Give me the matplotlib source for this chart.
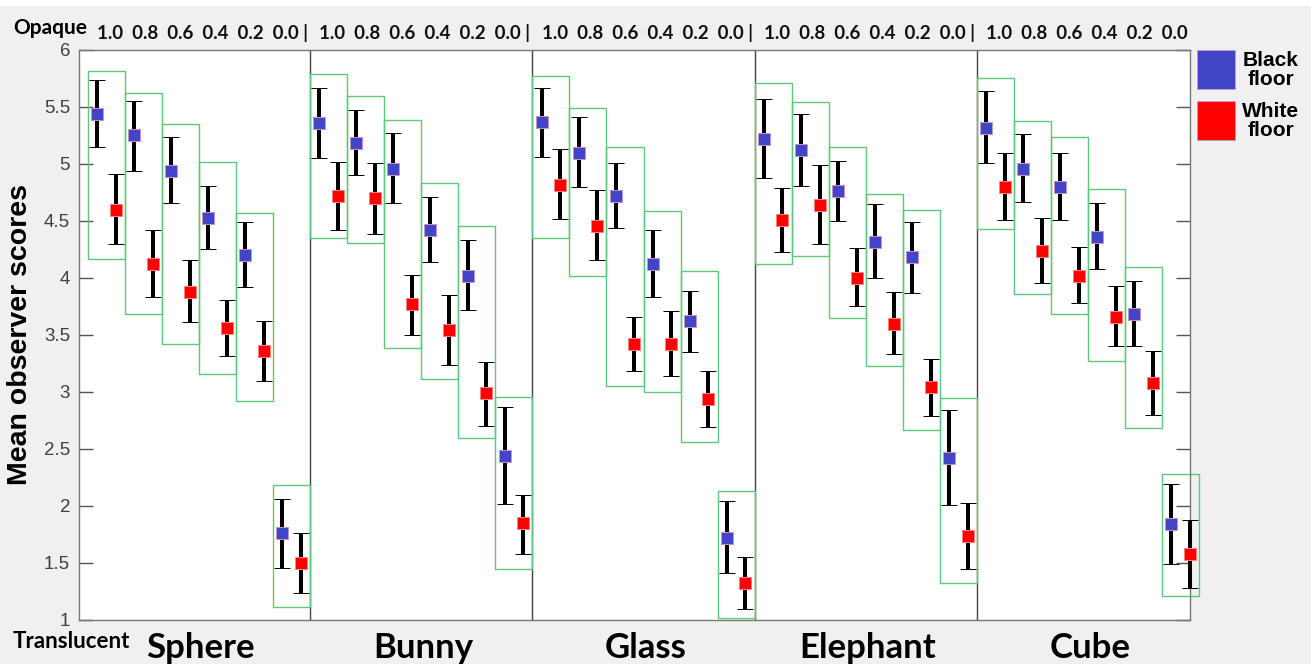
import matplotlib.pyplot as plt
from matplotlib.patches import Rectangle

objects = ["Sphere", "Bunny", "Glass", "Elephant", "Cube"]
opacity = ["1.0", "0.8", "0.6", "0.4", "0.2", "0.0"]

# scores per object, opacity 1.0 -> 0.0 ; black floor
black_mean = [[5.44, 5.25, 4.94, 4.53, 4.20, 1.76],
              [5.36, 5.18, 4.96, 4.42, 4.02, 2.44],
              [5.37, 5.10, 4.72, 4.12, 3.62, 1.72],
              [5.22, 5.12, 4.76, 4.32, 4.18, 2.42],
              [5.32, 4.96, 4.80, 4.36, 3.68, 1.84]]
black_lo = [[5.15, 4.94, 4.66, 4.25, 3.92, 1.46],
            [5.05, 4.90, 4.66, 4.14, 3.72, 2.02],
            [5.06, 4.80, 4.44, 3.83, 3.35, 1.41],
            [4.88, 4.81, 4.50, 4.00, 3.87, 2.01],
            [5.01, 4.67, 4.51, 4.08, 3.40, 1.49]]
black_hi = [[5.74, 5.55, 5.24, 4.81, 4.49, 2.06],
            [5.67, 5.47, 5.27, 4.71, 4.33, 2.87],
            [5.67, 5.41, 5.01, 4.42, 3.89, 2.04],
            [5.57, 5.44, 5.03, 4.65, 4.49, 2.84],
            [5.64, 5.26, 5.10, 4.66, 3.97, 2.19]]

# white floor
white_mean = [[4.60, 4.12, 3.88, 3.56, 3.36, 1.50],
              [4.72, 4.70, 3.77, 3.54, 2.99, 1.85],
              [4.82, 4.46, 3.42, 3.42, 2.94, 1.32],
              [4.51, 4.64, 4.00, 3.60, 3.04, 1.74],
              [4.80, 4.24, 4.02, 3.66, 3.08, 1.58]]
white_lo = [[4.30, 3.83, 3.61, 3.32, 3.10, 1.24],
            [4.42, 4.39, 3.50, 3.24, 2.70, 1.58],
            [4.52, 4.16, 3.18, 3.14, 2.69, 1.10],
            [4.23, 4.30, 3.75, 3.33, 2.79, 1.45],
            [4.51, 3.96, 3.78, 3.40, 2.80, 1.28]]
white_hi = [[4.91, 4.42, 4.16, 3.81, 3.62, 1.76],
            [5.02, 5.01, 4.03, 3.85, 3.26, 2.10],
            [5.13, 4.77, 3.66, 3.71, 3.18, 1.55],
            [4.79, 4.99, 4.26, 3.88, 3.29, 2.03],
            [5.10, 4.53, 4.27, 3.93, 3.36, 1.88]]

# green range boxes around each black/white pair
box_lo = [[4.17, 3.68, 3.42, 3.16, 2.92, 1.11],
          [4.35, 4.31, 3.39, 3.11, 2.60, 1.45],
          [4.35, 4.02, 3.05, 3.00, 2.56, 1.02],
          [4.12, 4.19, 3.65, 3.23, 2.67, 1.32],
          [4.43, 3.86, 3.68, 3.27, 2.68, 1.21]]
box_hi = [[5.82, 5.62, 5.35, 5.02, 4.57, 2.18],
          [5.79, 5.60, 5.39, 4.83, 4.46, 2.96],
          [5.77, 5.49, 5.15, 4.59, 4.06, 2.13],
          [5.71, 5.54, 5.15, 4.74, 4.60, 2.95],
          [5.75, 5.38, 5.24, 4.78, 4.10, 2.28]]

BLUE = "#4146c9"
RED = "#ff0000"
GREEN = "#5cc878"
BG = "#f0f0f0"

fig = plt.figure(figsize=(13.11, 6.64), dpi=100, facecolor=BG)
fig.add_artist(Rectangle((0, 0.991), 1, 0.009, transform=fig.transFigure,
                         facecolor="white", edgecolor="none"))
ax = fig.add_axes([0.0599, 0.0663, 0.8478, 0.8584])
ax.set_xlim(0, 60)
ax.set_ylim(1, 6)

ebar_kw = dict(fmt="s", ecolor="black", elinewidth=2.9, capsize=5.5,
               capthick=2.4, markersize=8.4, markeredgewidth=0.7,
               clip_on=False, zorder=4)

top_y = 1 - 39 / 664
for g, name in enumerate(objects):
    base = 12 * g
    for k in range(len(opacity)):
        xb = base + 2 * k + 1
        xw = xb + 1
        ax.add_patch(Rectangle((xb - 0.5, box_lo[g][k]), 2,
                               box_hi[g][k] - box_lo[g][k], fill=False,
                               edgecolor=GREEN, lw=1.0, clip_on=False, zorder=2))
        bm = black_mean[g][k]
        ax.errorbar([xb], [bm], yerr=[[bm - black_lo[g][k]], [black_hi[g][k] - bm]],
                    mfc=BLUE, mec="#d090c0", **ebar_kw)
        wm = white_mean[g][k]
        ax.errorbar([xw], [wm], yerr=[[wm - white_lo[g][k]], [white_hi[g][k] - wm]],
                    mfc=RED, mec="#ff8080", **ebar_kw)
    if g > 0:
        ax.axvline(base + 0.5, color="#444444", lw=1.0, zorder=1)

    # opacity labels above, object name below
    lbl = "  ".join(opacity) + (" |" if g < len(objects) - 1 else "")
    x_fig = fig.transFigure.inverted().transform(
        ax.transData.transform((base + 1.0, 1)))[0]
    fig.text(x_fig, top_y, lbl, ha="left", va="baseline", fontsize=13.5,
             fontweight="bold", family="Lato", color="#111111")
    ax.text(base + 6.6, -0.067, name, transform=ax.get_xaxis_transform(),
            ha="center", va="baseline", fontsize=25, fontweight="bold",
            family="Lato", color="black")

ax.set_xticks([])
ax.set_yticks([1, 1.5, 2, 2.5, 3, 3.5, 4, 4.5, 5, 5.5, 6])
ax.set_yticklabels(["1", "1.5", "2", "2.5", "3", "3.5", "4", "4.5", "5", "5.5", "6"])
ax.tick_params(axis="y", direction="in", length=10, width=1, colors="#555555",
               labelcolor="#404040", labelsize=13.5, right=True, pad=6)
for lab in ax.get_yticklabels():
    lab.set_family("Liberation Sans")
for sp in ax.spines.values():
    sp.set_color("#777777")
    sp.set_linewidth(1.0)

ax.set_ylabel("Mean observer scores", fontsize=20.5, fontweight="bold",
              family="Liberation Sans", labelpad=8)

fig.text(13 / 1311, 1 - 34 / 664, "Opaque", ha="left", va="baseline",
         fontsize=15, fontweight="bold", family="Lato")
fig.text(13 / 1311, 1 - 648 / 664, "Translucent", ha="left", va="baseline",
         fontsize=16, fontweight="bold", family="Lato")

# legend squares drawn outside the axes
for i, (col, txt) in enumerate([(BLUE, "Black\nfloor"), (RED, "White\nfloor")]):
    y0 = 1 - (89 + 51 * i) / 664
    fig.add_artist(Rectangle((1197 / 1311, y0), 38 / 1311, 39 / 664,
                             transform=fig.transFigure, facecolor=col,
                             edgecolor="#c0a0d0", lw=0.6))
    fig.text(1271 / 1311, 1 - (70 + 51 * i) / 664, txt, ha="center",
             va="center", multialignment="center", fontsize=15,
             fontweight="bold", family="Liberation Sans", linespacing=1.0)

fig.savefig("out.png", dpi=100, facecolor=BG)
